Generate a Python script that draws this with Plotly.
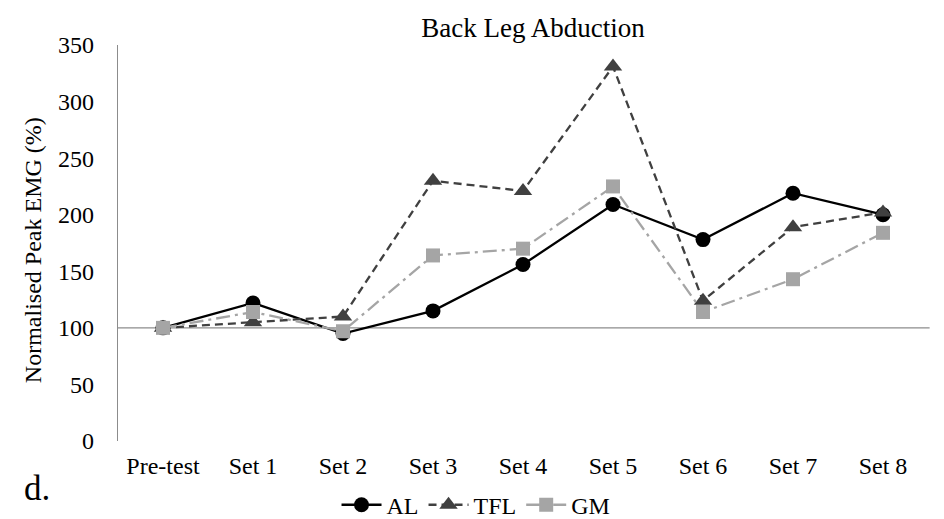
import plotly.graph_objects as go

# Normalised peak EMG (% of pre-test) for back leg abduction
categories = ["Pre-test", "Set 1", "Set 2", "Set 3", "Set 4", "Set 5", "Set 6", "Set 7", "Set 8"]
al_values = [100, 122, 95, 115, 156, 209, 178, 219, 200]
tfl_values = [100, 105, 110, 230, 221, 331, 124, 189, 202]
gm_values = [100, 114, 97, 164, 170, 225, 114, 143, 184]

y_ticks = [0, 50, 100, 150, 200, 250, 300, 350]
baseline = 100  # horizontal axis crosses the value axis here

FONT = "Liberation Serif, Times New Roman, serif"
AXIS_GREY = "#8c8c8c"

series = [
    ("AL", al_values, "black", "solid", "circle", 15),
    ("TFL", tfl_values, "#404040", "8px,5px", "triangle-up", 16),
    ("GM", gm_values, "#a5a5a5", "14px,5px,3px,5px", "square", 14),
]

fig = go.Figure()
for name, vals, color, dash, symbol, msize in series:
    fig.add_trace(go.Scatter(
        x=categories, y=vals, name=name, mode="lines+markers",
        line=dict(color=color, width=2.3, dash=dash),
        marker=dict(symbol=symbol, size=msize, color=color, line=dict(width=0)),
    ))

# category axis line drawn where it crosses the value axis
fig.add_shape(type="line", xref="paper", yref="y", x0=0, x1=1.002,
              y0=baseline, y1=baseline, line=dict(color=AXIS_GREY, width=1.4),
              layer="below")

fig.update_layout(
    width=944, height=519,
    margin=dict(l=118, r=16, t=45, b=78, autoexpand=False),
    paper_bgcolor="white", plot_bgcolor="white",
    font=dict(family=FONT, color="black", size=24),
    title=dict(text="Back Leg Abduction", x=533 / 944, xanchor="center",
               y=1 - 28 / 519, yanchor="middle",
               font=dict(family=FONT, size=27, color="black")),
    showlegend=True,
    legend=dict(orientation="h", x=0.442, xanchor="center", y=-0.162, yanchor="middle",
                font=dict(family=FONT, size=24, color="black"),
                itemwidth=40, tracegroupgap=0, bgcolor="rgba(0,0,0,0)"),
    xaxis=dict(type="category", categoryorder="array", categoryarray=categories,
               range=[-0.5, len(categories) - 0.5], showgrid=False, zeroline=False,
               showline=False, ticks="", ticklabelstandoff=8,
               tickfont=dict(family=FONT, size=24, color="black")),
    yaxis=dict(range=[0, 350], tickvals=y_ticks, showgrid=False, zeroline=False,
               showline=True, linecolor=AXIS_GREY, linewidth=1.4, ticks="",
               ticklabelstandoff=18,
               tickfont=dict(family=FONT, size=24, color="black")),
    annotations=[
        dict(text="Normalised Peak EMG (%)", textangle=-90, xref="paper", yref="paper",
             x=(33 - 118) / 810, y=0.482, xanchor="center", yanchor="middle",
             showarrow=False, font=dict(family=FONT, size=24, color="black")),
        dict(text="d.", xref="paper", yref="paper", x=(22 - 118) / 810, y=(441 - 488) / 396,
             xanchor="left", yanchor="middle", showarrow=False,
             font=dict(family=FONT, size=35, color="black")),
    ],
)

fig.write_html("out.html")
